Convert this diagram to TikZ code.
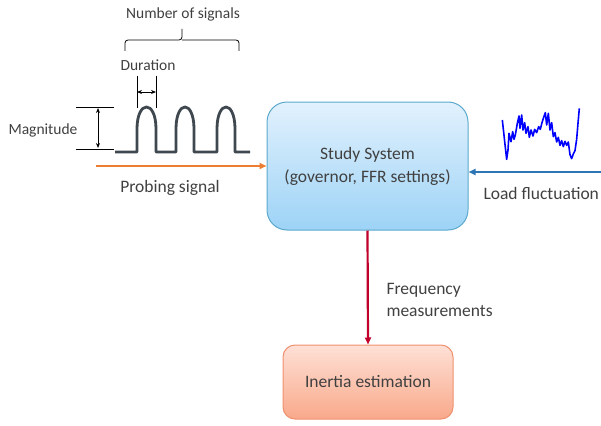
\documentclass[tikz,border=0pt]{standalone}
\usepackage{fontspec}
\setmainfont{Carlito}
\usetikzlibrary{arrows.meta}
\definecolor{txt}{HTML}{404040}
\definecolor{boxblueT}{HTML}{E2F1FD}
\definecolor{boxblueB}{HTML}{9DD3F6}
\definecolor{boxblueD}{HTML}{5BA9CC}
\definecolor{boxredT}{HTML}{FEE0D6}
\definecolor{boxredB}{HTML}{F9A98B}
\definecolor{boxredD}{HTML}{F0906E}
\definecolor{arrred}{HTML}{C0002A}
\definecolor{arrorange}{HTML}{ED7D31}
\definecolor{arrblue}{HTML}{2E75B6}
\definecolor{sig}{HTML}{3F474F}
\tikzset{
  bigtext/.style={font=\fontsize{17.5}{21}\selectfont, text=txt},
  smalltext/.style={font=\fontsize{15.5}{19}\selectfont, text=txt},
  conn/.style={line width=2.2pt, -{Triangle[length=7pt,width=6pt]}},
  dim/.style={line width=0.9pt, black},
}
\begin{document}
\begin{tikzpicture}[x=1pt,y=-1pt]
\useasboundingbox (0,0) rectangle (601,425);
% boxes
\node[draw=boxblueD, line width=1pt, rounded corners=20pt, top color=boxblueT, bottom color=boxblueB,
  minimum width=201pt, minimum height=128pt, align=center, bigtext, inner sep=0pt]
  (sys) at (367.5,166) {Study System\\[2pt](governor, FFR settings)};
\node[draw=boxredD, line width=1pt, rounded corners=12pt, top color=boxredT, bottom color=boxredB,
  minimum width=170pt, minimum height=74pt, bigtext, inner sep=0pt]
  (inert) at (368,382) {Inertia estimation};
% connectors
\coordinate (probe) at (96,166);
\coordinate (load) at (601,172);
\draw[conn, arrorange] (probe) -- (sys.west |- probe);
\draw[conn, arrblue] (load) -- (sys.east |- load);
\draw[conn, arrred] (sys.south) -- (inert.north);
% labels
\node[bigtext] (probelbl) at (170,188) {Probing signal};
\node[bigtext, anchor=west] (loadlbl) at (480,193) {Load fluctuation};
\node[bigtext, anchor=west, align=left] (freq) at (383,300) {Frequency\\[1pt]measurements};
% pulse signal
\draw[sig, line width=2.8pt, line join=round]
  (115,152) -- (137,152) -- (137,128) .. controls (137.5,100) and (155.5,100) .. (156,128) -- (156,152)
  -- (176,152) -- (176,128) .. controls (176.5,100) and (193.5,100) .. (194,128) -- (194,152)
  -- (217,152) -- (217,128) .. controls (217.5,100) and (234.5,100) .. (235,128) -- (235,152) -- (250,152);
% magnitude
\coordinate (m1) at (76,107);
\coordinate (m2) at (114,107);
\coordinate (m3) at (76,149);
\coordinate (m4) at (114,149);
\draw[dim] (m1) -- (m2);
\draw[dim] (m3) -- (m4);
\coordinate (ma) at (98,108);
\coordinate (mb) at (98,148);
\draw[dim, {Stealth[length=5pt,width=4pt]}-{Stealth[length=5pt,width=4pt]}] (ma) -- (mb);
\node[smalltext] (maglbl) at (43,130) {Magnitude};
% duration
\coordinate (d1) at (137,76);
\coordinate (d2) at (137,108);
\coordinate (d3) at (156,76);
\coordinate (d4) at (156,108);
\draw[dim] (d1) -- (d2);
\draw[dim] (d3) -- (d4);
\coordinate (da) at (137,92);
\coordinate (db) at (156,92);
\draw[dim, {Stealth[length=5pt,width=4pt]}-{Stealth[length=5pt,width=4pt]}] (da) -- (db);
\node[smalltext] (durlbl) at (148,65) {Duration};
% brace
\draw[line width=0.8pt, black, rounded corners=3pt]
  (125,51) -- (125,40) -- (182,40) -- (182,29);
\draw[line width=0.8pt, black, rounded corners=3pt]
  (239,51) -- (239,40) -- (182,40);
\node[smalltext] (numlbl) at (183,14) {Number of signals};
% load fluctuation trace
\begin{scope}[shift={(440,80)}, x=0.3333pt, y=-0.3333pt]
\draw[blue, line width=1.6pt, line join=round]
  (187,120) -- (193,175) -- (200,238) -- (204,210) -- (207,160) -- (213,185) -- (218,155) -- (222,178)
  -- (226,165) -- (232,130) -- (237,108) -- (240,145) -- (245,105) -- (249,150) -- (254,128) -- (258,160)
  -- (264,140) -- (268,172) -- (273,150) -- (279,168) -- (284,148) -- (290,158) -- (296,140) -- (301,148)
  -- (306,128) -- (311,112) -- (316,98) -- (320,135) -- (325,100) -- (330,150) -- (335,128) -- (340,170)
  -- (345,158) -- (350,186) -- (355,172) -- (360,196) -- (365,182) -- (370,200) -- (375,184) -- (380,196)
  -- (385,186) -- (390,224) -- (395,236) -- (400,222) -- (405,212) -- (410,178) -- (414,130) -- (418,85);
\end{scope}
\end{tikzpicture}
\end{document}
